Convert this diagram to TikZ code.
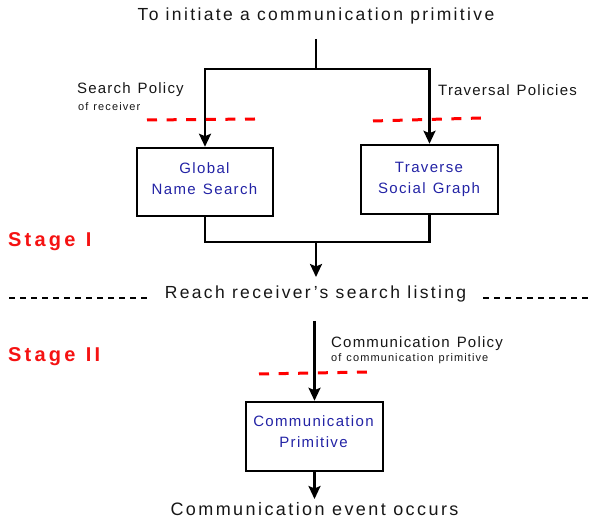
\documentclass[tikz,border=0pt]{standalone}
\usepackage{fontspec}
\setmainfont{Liberation Sans}
% letter-spaced sans faces for the various text roles
\newfontfamily\headfont[LetterSpace=13.5,WordSpace=1.0]{Liberation Sans}
\newfontfamily\policyfont[LetterSpace=8,WordSpace=1.3]{Liberation Sans}
\newfontfamily\boxfont[LetterSpace=9,WordSpace=1.3]{Liberation Sans}
\newfontfamily\subfont[LetterSpace=10,WordSpace=1.2]{Liberation Sans}
\newfontfamily\stagefont[LetterSpace=16,WordSpace=1.2]{Liberation Sans Bold}
\usetikzlibrary{arrows.meta}
\definecolor{inkblack}{RGB}{22,22,22}
\definecolor{boxblue}{RGB}{35,35,165}
\definecolor{stagered}{RGB}{245,18,18}
\begin{document}
\begin{tikzpicture}[x=1pt,y=-1pt,
  conn/.style={line width=2.4pt, black},
  arr/.style={conn, -{Stealth[length=13pt,width=12pt,inset=2.5pt]}},
  stepbox/.style={draw=black, line width=2.5pt, minimum width=136pt,
    minimum height=68pt, inner sep=0pt},
  headtext/.style={inner sep=0pt, text=inkblack,
    font=\headfont\fontsize{17.5}{20}\selectfont},
  eventtext/.style={inner sep=0pt, text=inkblack, text depth=0pt,
    font=\headfont\fontsize{18}{21}\selectfont},
  policytext/.style={inner sep=0pt, text=inkblack,
    font=\policyfont\fontsize{15}{18}\selectfont},
  subtext/.style={inner sep=0pt, text=inkblack,
    font=\subfont\fontsize{11}{13}\selectfont},
  boxtext/.style={inner sep=0pt, text=boxblue,
    font=\boxfont\fontsize{15}{18}\selectfont},
  stagetext/.style={inner sep=0pt, text=stagered,
    font=\stagefont\fontsize{20}{23}\selectfont},
  policyline/.style={draw=red, line width=3pt, dash pattern=on 10pt off 9.6pt},
  stageline/.style={draw=black, line width=2.5pt, dash pattern=on 6pt off 5pt}
]
\useasboundingbox (0,0) rectangle (589,518);

% ---- Stage I ----
\node[headtext, anchor=base] (title) at (316,21) {To initiate a communication primitive};
\coordinate (start) at (316,39);
\coordinate (split) at (316,69);

\node[stepbox, minimum width=136pt, minimum height=68pt] (gns) at (205,182) {};
\node[boxtext, anchor=base] (gnsA) at (204.5,173.3) {Global};
\node[boxtext, anchor=base] (gnsB) at (204.5,195) {Name Search};

\node[stepbox, minimum width=137pt, minimum height=69pt] (tsg) at (429.5,179.5) {};
\node[boxtext, anchor=base] (tsgA) at (429,172.3) {Traverse};
\node[boxtext, anchor=base] (tsgB) at (429,194) {Social Graph};

\draw[conn] (start) -- (split);
\draw[arr] (split) -| (gns.north);
\draw[arr] (split) -| (tsg.north);

\node[policytext, anchor=base west] (sp) at (77,94) {Search Policy};
\node[subtext, anchor=base west] (spsub) at (78,111) {of receiver};
\node[policytext, anchor=base west] (tp) at (438,96) {Traversal Policies};

\coordinate (spA) at (147,120);
\coordinate (spB) at (255,119);
\coordinate (tpA) at (373,121);
\coordinate (tpB) at (481,118);
\draw[policyline] (spA) -- (spB);
\draw[policyline] (tpA) -- (tpB);

\coordinate (merge) at (316,242);
\coordinate (reachin) at (316,277);
\draw[conn] (gns.south) |- (merge) -| (tsg.south);
\draw[arr] (merge) -- (reachin);

\node[stagetext, anchor=base west] (stageI) at (8,246.5) {Stage I};

% ---- stage boundary ----
\node[headtext, anchor=base] (reach) at (315.5,299) {Reach receiver’s search listing};
\coordinate (dlA) at (9,298);
\coordinate (dlB) at (148,298);
\coordinate (drA) at (483,298);
\coordinate (drB) at (589,298);
\draw[stageline] (dlA) -- (dlB);
\draw[stageline] (drA) -- (drB);

% ---- Stage II ----
\node[stagetext, anchor=base west] (stageII) at (8,361.5) {Stage II};

\node[stepbox, minimum width=137pt, minimum height=69pt] (cp) at (314.5,436.5) {};
\node[boxtext, anchor=base] (cpA) at (313.5,426.7) {Communication};
\node[boxtext, anchor=base] (cpB) at (313.5,447.3) {Primitive};

\coordinate (listout) at (314.5,321);
\draw[arr] (listout) -- (cp.north);

\node[policytext, anchor=base west] (cpol) at (331,348) {Communication Policy};
\node[subtext, anchor=base west] (cpolsub) at (331,361.5) {of communication primitive};
\coordinate (cpA1) at (259,374);
\coordinate (cpB1) at (367,372);
\draw[policyline] (cpA1) -- (cpB1);

\coordinate (eventin) at (314.5,499);
\draw[arr] (cp.south) -- (eventin);
\node[eventtext, anchor=base] (event) at (314.5,515.5) {Communication event occurs};
\end{tikzpicture}
\end{document}
